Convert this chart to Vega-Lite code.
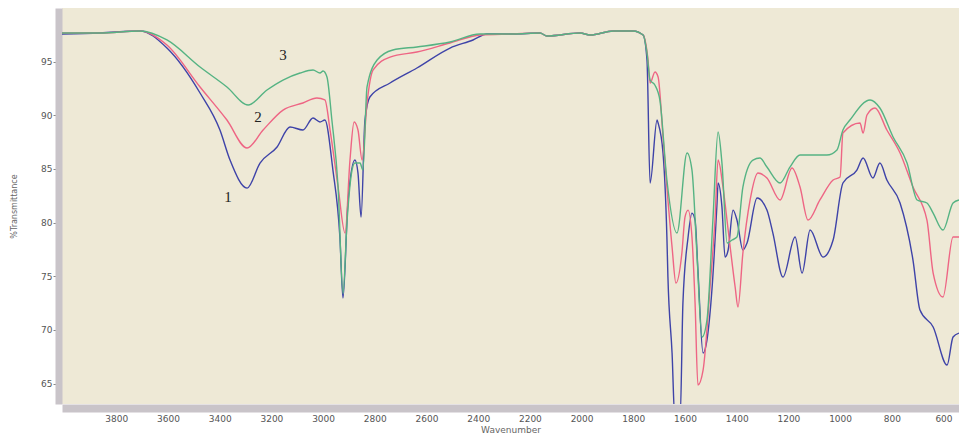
{
  "$schema": "https://vega.github.io/schema/vega-lite/v6.json",
  "width": 897,
  "height": 396,
  "autosize": {"type": "none"},
  "padding": {"left": 62, "top": 8, "right": 0, "bottom": 31},
  "background": "#ffffff",
  "config": {"view": {"fill": "#EEE9D6", "stroke": null}},
  "datasets": {
    "spectra": [
      {"s": "1", "w": 4010, "v": 97.58}, {"s": "1", "w": 3863, "v": 97.67}, {"s": "1", "w": 3708, "v": 97.86},
      {"s": "1", "w": 3604, "v": 96.27}, {"s": "1", "w": 3476, "v": 92.08}, {"s": "1", "w": 3399, "v": 88.63},
      {"s": "1", "w": 3360, "v": 85.83}, {"s": "1", "w": 3294, "v": 83.22}, {"s": "1", "w": 3244, "v": 85.55},
      {"s": "1", "w": 3178, "v": 87.05}, {"s": "1", "w": 3128, "v": 88.91}, {"s": "1", "w": 3078, "v": 88.63},
      {"s": "1", "w": 3039, "v": 89.75}, {"s": "1", "w": 3012, "v": 89.38}, {"s": "1", "w": 2993, "v": 89.56},
      {"s": "1", "w": 2962, "v": 84.9}, {"s": "1", "w": 2935, "v": 78.66}, {"s": "1", "w": 2923, "v": 72.97},
      {"s": "1", "w": 2904, "v": 81.83}, {"s": "1", "w": 2877, "v": 85.83}, {"s": "1", "w": 2865, "v": 84.62},
      {"s": "1", "w": 2853, "v": 80.52}, {"s": "1", "w": 2838, "v": 89.56}, {"s": "1", "w": 2819, "v": 91.71},
      {"s": "1", "w": 2741, "v": 93.01}, {"s": "1", "w": 2637, "v": 94.41}, {"s": "1", "w": 2509, "v": 96.27},
      {"s": "1", "w": 2420, "v": 97.02}, {"s": "1", "w": 2366, "v": 97.58}, {"s": "1", "w": 2265, "v": 97.58},
      {"s": "1", "w": 2161, "v": 97.67}, {"s": "1", "w": 2134, "v": 97.39}, {"s": "1", "w": 2006, "v": 97.67},
      {"s": "1", "w": 1967, "v": 97.48}, {"s": "1", "w": 1878, "v": 97.86}, {"s": "1", "w": 1801, "v": 97.86},
      {"s": "1", "w": 1762, "v": 97.48}, {"s": "1", "w": 1747, "v": 95.15}, {"s": "1", "w": 1735, "v": 83.69},
      {"s": "1", "w": 1708, "v": 89.56}, {"s": "1", "w": 1704, "v": 89.28}, {"s": "1", "w": 1685, "v": 86.49},
      {"s": "1", "w": 1670, "v": 78.66}, {"s": "1", "w": 1666, "v": 74.93}, {"s": "1", "w": 1650, "v": 67.85},
      {"s": "1", "w": 1639, "v": 61.6}, {"s": "1", "w": 1619, "v": 61.6}, {"s": "1", "w": 1608, "v": 72.51},
      {"s": "1", "w": 1588, "v": 78.66}, {"s": "1", "w": 1573, "v": 80.89}, {"s": "1", "w": 1561, "v": 80.24},
      {"s": "1", "w": 1550, "v": 75.58}, {"s": "1", "w": 1530, "v": 67.85}, {"s": "1", "w": 1515, "v": 69.06},
      {"s": "1", "w": 1495, "v": 74.0}, {"s": "1", "w": 1476, "v": 81.83}, {"s": "1", "w": 1472, "v": 83.69},
      {"s": "1", "w": 1457, "v": 81.45}, {"s": "1", "w": 1445, "v": 76.79}, {"s": "1", "w": 1433, "v": 77.45},
      {"s": "1", "w": 1414, "v": 81.17}, {"s": "1", "w": 1399, "v": 80.24}, {"s": "1", "w": 1376, "v": 77.45},
      {"s": "1", "w": 1360, "v": 78.1}, {"s": "1", "w": 1321, "v": 82.29}, {"s": "1", "w": 1283, "v": 81.17},
      {"s": "1", "w": 1260, "v": 79.03}, {"s": "1", "w": 1221, "v": 74.93}, {"s": "1", "w": 1174, "v": 78.66},
      {"s": "1", "w": 1147, "v": 75.3}, {"s": "1", "w": 1116, "v": 79.31}, {"s": "1", "w": 1066, "v": 76.79},
      {"s": "1", "w": 1027, "v": 78.38}, {"s": "1", "w": 989, "v": 83.69}, {"s": "1", "w": 935, "v": 84.9},
      {"s": "1", "w": 911, "v": 86.02}, {"s": "1", "w": 873, "v": 84.16}, {"s": "1", "w": 846, "v": 85.55},
      {"s": "1", "w": 819, "v": 83.97}, {"s": "1", "w": 768, "v": 81.83}, {"s": "1", "w": 718, "v": 76.51},
      {"s": "1", "w": 691, "v": 71.85}, {"s": "1", "w": 640, "v": 70.27}, {"s": "1", "w": 586, "v": 66.73},
      {"s": "1", "w": 563, "v": 69.34}, {"s": "1", "w": 540, "v": 69.71},

      {"s": "2", "w": 4010, "v": 97.67}, {"s": "2", "w": 3863, "v": 97.67}, {"s": "2", "w": 3708, "v": 97.86},
      {"s": "2", "w": 3604, "v": 96.55}, {"s": "2", "w": 3476, "v": 92.64}, {"s": "2", "w": 3372, "v": 89.56},
      {"s": "2", "w": 3294, "v": 86.95}, {"s": "2", "w": 3232, "v": 88.63}, {"s": "2", "w": 3155, "v": 90.49},
      {"s": "2", "w": 3078, "v": 91.15}, {"s": "2", "w": 3024, "v": 91.61}, {"s": "2", "w": 2993, "v": 91.43},
      {"s": "2", "w": 2973, "v": 88.63}, {"s": "2", "w": 2942, "v": 83.32}, {"s": "2", "w": 2915, "v": 79.03},
      {"s": "2", "w": 2896, "v": 85.83}, {"s": "2", "w": 2880, "v": 89.38}, {"s": "2", "w": 2865, "v": 88.63},
      {"s": "2", "w": 2849, "v": 85.83}, {"s": "2", "w": 2830, "v": 91.15}, {"s": "2", "w": 2807, "v": 94.22},
      {"s": "2", "w": 2741, "v": 95.43}, {"s": "2", "w": 2637, "v": 95.9}, {"s": "2", "w": 2509, "v": 96.74},
      {"s": "2", "w": 2393, "v": 97.48}, {"s": "2", "w": 2265, "v": 97.58}, {"s": "2", "w": 2161, "v": 97.67},
      {"s": "2", "w": 2134, "v": 97.39}, {"s": "2", "w": 2006, "v": 97.67}, {"s": "2", "w": 1967, "v": 97.48},
      {"s": "2", "w": 1878, "v": 97.86}, {"s": "2", "w": 1801, "v": 97.86}, {"s": "2", "w": 1762, "v": 97.48},
      {"s": "2", "w": 1743, "v": 95.15}, {"s": "2", "w": 1735, "v": 93.01}, {"s": "2", "w": 1716, "v": 94.04},
      {"s": "2", "w": 1704, "v": 93.57}, {"s": "2", "w": 1685, "v": 87.98}, {"s": "2", "w": 1670, "v": 83.32},
      {"s": "2", "w": 1650, "v": 77.73}, {"s": "2", "w": 1635, "v": 74.37}, {"s": "2", "w": 1612, "v": 77.17},
      {"s": "2", "w": 1600, "v": 80.52}, {"s": "2", "w": 1588, "v": 81.17}, {"s": "2", "w": 1573, "v": 78.66},
      {"s": "2", "w": 1561, "v": 72.51}, {"s": "2", "w": 1550, "v": 64.87}, {"s": "2", "w": 1530, "v": 66.26},
      {"s": "2", "w": 1503, "v": 74.0}, {"s": "2", "w": 1484, "v": 80.24}, {"s": "2", "w": 1472, "v": 85.83},
      {"s": "2", "w": 1453, "v": 83.32}, {"s": "2", "w": 1433, "v": 79.31}, {"s": "2", "w": 1406, "v": 74.0},
      {"s": "2", "w": 1395, "v": 72.13}, {"s": "2", "w": 1376, "v": 77.17}, {"s": "2", "w": 1348, "v": 82.11},
      {"s": "2", "w": 1318, "v": 84.62}, {"s": "2", "w": 1283, "v": 84.16}, {"s": "2", "w": 1232, "v": 82.11},
      {"s": "2", "w": 1186, "v": 85.09}, {"s": "2", "w": 1155, "v": 83.32}, {"s": "2", "w": 1124, "v": 80.24},
      {"s": "2", "w": 1078, "v": 82.11}, {"s": "2", "w": 1027, "v": 83.97}, {"s": "2", "w": 1000, "v": 84.25},
      {"s": "2", "w": 989, "v": 88.35}, {"s": "2", "w": 923, "v": 89.28}, {"s": "2", "w": 911, "v": 88.35},
      {"s": "2", "w": 896, "v": 90.03}, {"s": "2", "w": 865, "v": 90.68}, {"s": "2", "w": 819, "v": 88.63},
      {"s": "2", "w": 768, "v": 86.49}, {"s": "2", "w": 718, "v": 83.32}, {"s": "2", "w": 664, "v": 80.24},
      {"s": "2", "w": 640, "v": 75.3}, {"s": "2", "w": 602, "v": 73.07}, {"s": "2", "w": 563, "v": 78.66},
      {"s": "2", "w": 540, "v": 78.66},

      {"s": "3", "w": 4010, "v": 97.67}, {"s": "3", "w": 3863, "v": 97.67}, {"s": "3", "w": 3708, "v": 97.86},
      {"s": "3", "w": 3604, "v": 97.02}, {"s": "3", "w": 3476, "v": 94.5}, {"s": "3", "w": 3372, "v": 92.64},
      {"s": "3", "w": 3290, "v": 90.96}, {"s": "3", "w": 3217, "v": 92.36}, {"s": "3", "w": 3155, "v": 93.29},
      {"s": "3", "w": 3089, "v": 93.94}, {"s": "3", "w": 3039, "v": 94.22}, {"s": "3", "w": 3012, "v": 93.94},
      {"s": "3", "w": 3000, "v": 94.13}, {"s": "3", "w": 2985, "v": 93.57}, {"s": "3", "w": 2966, "v": 89.56},
      {"s": "3", "w": 2942, "v": 83.32}, {"s": "3", "w": 2923, "v": 73.4}, {"s": "3", "w": 2907, "v": 80.24},
      {"s": "3", "w": 2888, "v": 84.9}, {"s": "3", "w": 2877, "v": 85.55}, {"s": "3", "w": 2857, "v": 85.55},
      {"s": "3", "w": 2846, "v": 84.9}, {"s": "3", "w": 2830, "v": 92.64}, {"s": "3", "w": 2791, "v": 95.15},
      {"s": "3", "w": 2730, "v": 96.09}, {"s": "3", "w": 2637, "v": 96.37}, {"s": "3", "w": 2509, "v": 96.83},
      {"s": "3", "w": 2393, "v": 97.58}, {"s": "3", "w": 2265, "v": 97.58}, {"s": "3", "w": 2161, "v": 97.67},
      {"s": "3", "w": 2134, "v": 97.39}, {"s": "3", "w": 2006, "v": 97.67}, {"s": "3", "w": 1967, "v": 97.48},
      {"s": "3", "w": 1878, "v": 97.86}, {"s": "3", "w": 1801, "v": 97.86}, {"s": "3", "w": 1762, "v": 97.48},
      {"s": "3", "w": 1747, "v": 95.81}, {"s": "3", "w": 1735, "v": 93.29}, {"s": "3", "w": 1716, "v": 92.8},
      {"s": "3", "w": 1697, "v": 91.4}, {"s": "3", "w": 1670, "v": 83.97}, {"s": "3", "w": 1631, "v": 79.03},
      {"s": "3", "w": 1592, "v": 86.49}, {"s": "3", "w": 1573, "v": 84.9}, {"s": "3", "w": 1554, "v": 77.17},
      {"s": "3", "w": 1534, "v": 69.34}, {"s": "3", "w": 1515, "v": 70.92}, {"s": "3", "w": 1492, "v": 80.24},
      {"s": "3", "w": 1472, "v": 88.44}, {"s": "3", "w": 1457, "v": 85.55}, {"s": "3", "w": 1437, "v": 78.1},
      {"s": "3", "w": 1418, "v": 78.38}, {"s": "3", "w": 1399, "v": 78.66}, {"s": "3", "w": 1376, "v": 83.32},
      {"s": "3", "w": 1337, "v": 85.83}, {"s": "3", "w": 1310, "v": 86.02}, {"s": "3", "w": 1283, "v": 85.18},
      {"s": "3", "w": 1232, "v": 83.69}, {"s": "3", "w": 1194, "v": 85.18}, {"s": "3", "w": 1155, "v": 86.3},
      {"s": "3", "w": 1105, "v": 86.3}, {"s": "3", "w": 1051, "v": 86.3}, {"s": "3", "w": 1012, "v": 86.77},
      {"s": "3", "w": 989, "v": 88.63}, {"s": "3", "w": 962, "v": 89.56}, {"s": "3", "w": 884, "v": 91.43},
      {"s": "3", "w": 846, "v": 90.68}, {"s": "3", "w": 795, "v": 87.98}, {"s": "3", "w": 741, "v": 85.55},
      {"s": "3", "w": 702, "v": 82.11}, {"s": "3", "w": 664, "v": 81.83}, {"s": "3", "w": 640, "v": 80.89},
      {"s": "3", "w": 602, "v": 79.31}, {"s": "3", "w": 563, "v": 81.83}, {"s": "3", "w": 540, "v": 82.11}
    ],
    "labels": [
      {"t": "1", "w": 3368, "v": 82.4},
      {"t": "2", "w": 3252, "v": 89.8},
      {"t": "3", "w": 3155, "v": 95.6}
    ]
  },
  "layer": [
    {
      "data": {"name": "spectra"},
      "mark": {"type": "line", "strokeWidth": 1.4, "clip": true, "interpolate": "monotone"},
      "encoding": {
        "x": {
          "field": "w", "type": "quantitative",
          "scale": {"domain": [540, 4010], "reverse": true, "nice": false, "zero": false},
          "axis": {
            "title": "Wavenumber", "titleFontSize": 9, "titleColor": "#666", "titleFont": "DejaVu Sans",
            "titleFontWeight": "normal", "titlePadding": 2,
            "values": [3800, 3600, 3400, 3200, 3000, 2800, 2600, 2400, 2200, 2000, 1800, 1600, 1400, 1200, 1000, 800, 600],
            "format": "d", "labelFontSize": 9, "labelColor": "#555", "labelFont": "DejaVu Sans",
            "grid": false, "offset": 4, "domainWidth": 8, "domainColor": "#C9C4C9",
            "tickSize": 3, "tickColor": "#777", "tickOffset": 0, "labelPadding": 3
          }
        },
        "y": {
          "field": "v", "type": "quantitative",
          "scale": {"domain": [63.1, 100], "nice": false, "zero": false},
          "axis": {
            "title": "%Transmittance", "titleFontSize": 8, "titleColor": "#666", "titleFont": "DejaVu Sans",
            "titleFontWeight": "normal", "titlePadding": 22,
            "values": [65, 70, 75, 80, 85, 90, 95],
            "labelFontSize": 9, "labelColor": "#555", "labelFont": "DejaVu Sans",
            "grid": false, "offset": 3.5, "domainWidth": 7, "domainColor": "#C9C4C9",
            "tickSize": 5.5, "tickColor": "#888", "labelPadding": 1
          }
        },
        "color": {
          "field": "s", "type": "nominal",
          "scale": {"domain": ["1", "2", "3"], "range": ["#3E43A8", "#EE6584", "#55B383"]},
          "legend": null
        }
      }
    },
    {
      "data": {"name": "labels"},
      "mark": {"type": "text", "font": "Liberation Serif", "fontSize": 15, "color": "#222"},
      "encoding": {
        "x": {"field": "w", "type": "quantitative"},
        "y": {"field": "v", "type": "quantitative"},
        "text": {"field": "t"}
      }
    }
  ]
}
